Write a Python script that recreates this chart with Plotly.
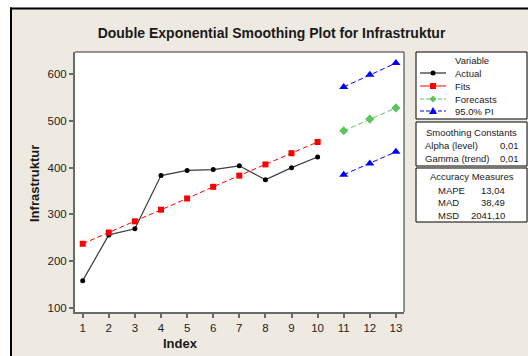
import plotly.graph_objects as go

# ---------------- data ----------------
index_actual = [1, 2, 3, 4, 5, 6, 7, 8, 9, 10]
actual = [158, 256, 269, 383, 394, 396, 404, 374, 400, 423]
fits = [237, 261, 285, 310, 334, 359, 383, 407, 431, 455]
index_fc = [11, 12, 13]
forecasts = [479, 504, 528]
upper_pi = [573, 599, 624]
lower_pi = [385, 409, 434]
x_ticks = list(range(1, 14))
y_ticks = [100, 200, 300, 400, 500, 600]
smoothing_labels = ["Alpha (level)", "Gamma (trend)"]
smoothing_values = ["0,01", "0,01"]
accuracy_labels = ["MAPE", "MAD", "MSD"]
accuracy_values = ["13,04", "38,49", "2041,10"]
legend_names = ["Actual", "Fits", "Forecasts", "95.0% PI"]

# ---------------- layout geometry (pixels) ----------------
W, H = 528, 356
L, R, T, B = 75, 404, 52, 312
BG = "#EEEAE2"
FONT = "Liberation Sans"
TXT = "#1a1a1a"


def X(px):
    return (px - L) / (R - L)


def Y(py):
    return (B - py) / (B - T)


fig = go.Figure()

fig.add_trace(go.Scatter(x=index_actual, y=actual, mode="lines+markers", name="Actual",
                         line=dict(color="#3c3c3c", width=1.2),
                         marker=dict(color="black", size=5, symbol="circle")))
fig.add_trace(go.Scatter(x=index_actual, y=fits, mode="lines+markers", name="Fits",
                         line=dict(color="#FF0000", width=1, dash="5px,3px"),
                         marker=dict(color="#FF0000", size=6, symbol="square")))
fig.add_trace(go.Scatter(x=index_fc, y=forecasts, mode="lines+markers", name="Forecasts",
                         line=dict(color="#5CC45C", width=1, dash="5px,3px"),
                         marker=dict(color="#5CC45C", size=7, symbol="diamond")))
fig.add_trace(go.Scatter(x=index_fc, y=upper_pi, mode="lines+markers", name="95.0% PI",
                         legendgroup="pi",
                         line=dict(color="#0000FF", width=1, dash="5px,3px"),
                         marker=dict(color="#0000FF", size=8, symbol="triangle-up")))
fig.add_trace(go.Scatter(x=index_fc, y=lower_pi, mode="lines+markers", name="95.0% PI",
                         legendgroup="pi", showlegend=False,
                         line=dict(color="#0000FF", width=1, dash="5px,3px"),
                         marker=dict(color="#0000FF", size=8, symbol="triangle-up")))

shapes = []
annotations = []

# frame: white outside strips and black border lines
shapes.append(dict(type="rect", xref="paper", yref="paper", x0=X(0), x1=X(10), y0=Y(356), y1=Y(0),
                   fillcolor="white", line=dict(width=0), layer="above"))
shapes.append(dict(type="rect", xref="paper", yref="paper", x0=X(0), x1=X(528), y0=Y(7.5), y1=Y(0),
                   fillcolor="white", line=dict(width=0), layer="above"))
shapes.append(dict(type="line", xref="paper", yref="paper", x0=X(11), x1=X(11), y0=Y(356), y1=Y(7.5),
                   line=dict(color="black", width=2), layer="above"))
shapes.append(dict(type="line", xref="paper", yref="paper", x0=X(10), x1=X(528), y0=Y(8.5), y1=Y(8.5),
                   line=dict(color="black", width=2), layer="above"))

# plot-area top and right border (thin, dark)
shapes.append(dict(type="line", xref="paper", yref="paper", x0=0, x1=1, y0=1, y1=1,
                   line=dict(color="#303030", width=1), layer="above"))
shapes.append(dict(type="line", xref="paper", yref="paper", x0=1, x1=1, y0=0, y1=1,
                   line=dict(color="#303030", width=1), layer="above"))

# side boxes
box_left, box_right = 416, 527
for (y0, y1) in [(52, 119), (122, 166), (168, 222)]:
    shapes.append(dict(type="rect", xref="paper", yref="paper", x0=X(box_left), x1=X(box_right),
                       y0=Y(y1), y1=Y(y0), fillcolor="white", line=dict(color="black", width=1),
                       layer="above"))

cx = (box_left + box_right) / 2
small = dict(family=FONT, size=9.5, color=TXT)


def ann(text, px, py, anchor="left"):
    annotations.append(dict(text=text, x=X(px), y=Y(py), xref="paper", yref="paper",
                            showarrow=False, xanchor=anchor, yanchor="middle", font=small))


# legend box (Variable)
ann("Variable", cx, 60, "center")
legend_rows = [73, 86, 99, 111]
sample_styles = [
    dict(color="black", dash="solid", marker="circle"),
    dict(color="#FF0000", dash="solid", marker="square"),
    dict(color="#5CC45C", dash="dash", marker="diamond"),
    dict(color="#0000FF", dash="dash", marker="triangle"),
]
lx0, lx1, mx = 420, 446, 433
for name, py, st in zip(legend_names, legend_rows, sample_styles):
    shapes.append(dict(type="line", xref="paper", yref="paper", x0=X(lx0), x1=X(lx1), y0=Y(py), y1=Y(py),
                       line=dict(color=st["color"], width=1,
                                 dash="solid" if st["dash"] == "solid" else "4px,2px"),
                       layer="above"))
    m = st["marker"]
    if m == "circle":
        shapes.append(dict(type="circle", xref="paper", yref="paper", x0=X(mx - 2.5), x1=X(mx + 2.5),
                           y0=Y(py + 2.5), y1=Y(py - 2.5), fillcolor=st["color"],
                           line=dict(width=0), layer="above"))
    elif m == "square":
        shapes.append(dict(type="rect", xref="paper", yref="paper", x0=X(mx - 3), x1=X(mx + 3),
                           y0=Y(py + 3), y1=Y(py - 3), fillcolor=st["color"],
                           line=dict(width=0), layer="above"))
    else:
        if m == "diamond":
            pts = [(mx, py - 3.5), (mx + 3.5, py), (mx, py + 3.5), (mx - 3.5, py)]
        else:
            pts = [(mx, py - 4), (mx + 4, py + 3), (mx - 4, py + 3)]
        path = "M " + " L ".join(f"{X(a)},{Y(b)}" for a, b in pts) + " Z"
        shapes.append(dict(type="path", xref="paper", yref="paper", path=path,
                           fillcolor=st["color"], line=dict(width=0), layer="above"))
    ann(name, 453, py, "left")

# smoothing constants box
ann("Smoothing Constants", cx, 132, "center")
for lab, val, py in zip(smoothing_labels, smoothing_values, [145, 158]):
    ann(lab, 423, py, "left")
    ann(val, 521, py, "right")

# accuracy measures box
ann("Accuracy Measures", cx, 176, "center")
for lab, val, py in zip(accuracy_labels, accuracy_values, [190, 202, 215]):
    ann(lab, 436, py, "left")
    ann(val, 507, py, "right")

# axis titles
annotations.append(dict(text="<b>Index</b>", x=X(180), y=Y(343), xref="paper", yref="paper",
                        showarrow=False, xanchor="center", yanchor="middle",
                        font=dict(family=FONT, size=13, color=TXT)))
annotations.append(dict(text="<b>Infrastruktur</b>", x=X(34), y=Y(184), xref="paper", yref="paper",
                        showarrow=False, xanchor="center", yanchor="middle", textangle=-90,
                        font=dict(family=FONT, size=13, color=TXT)))

axis_common = dict(showgrid=False, zeroline=False, showline=True, linecolor="#6a6a6a", linewidth=2,
                   mirror=False, ticks="outside", ticklen=4, tickcolor="#6a6a6a", tickwidth=1.5,
                   tickfont=dict(family=FONT, size=11.5, color="#222222"))

fig.update_layout(
    width=W, height=H,
    margin=dict(l=L, r=W - R, t=T, b=H - B, pad=0),
    paper_bgcolor=BG, plot_bgcolor="white",
    showlegend=False,
    title=dict(text="<b>Double Exponential Smoothing Plot for Infrastruktur</b>",
               x=271.5 / W, xref="container", xanchor="center",
               y=1 - 33 / H, yref="container", yanchor="middle",
               font=dict(family=FONT, size=14, color=TXT)),
    xaxis=dict(range=[0.705, 13.31], tickvals=x_ticks, ticktext=[str(v) for v in x_ticks], **axis_common),
    yaxis=dict(range=[90.8, 647.8], tickvals=y_ticks, ticktext=[str(v) for v in y_ticks], **axis_common),
    shapes=shapes,
    annotations=annotations,
)

fig.write_html("out.html")
